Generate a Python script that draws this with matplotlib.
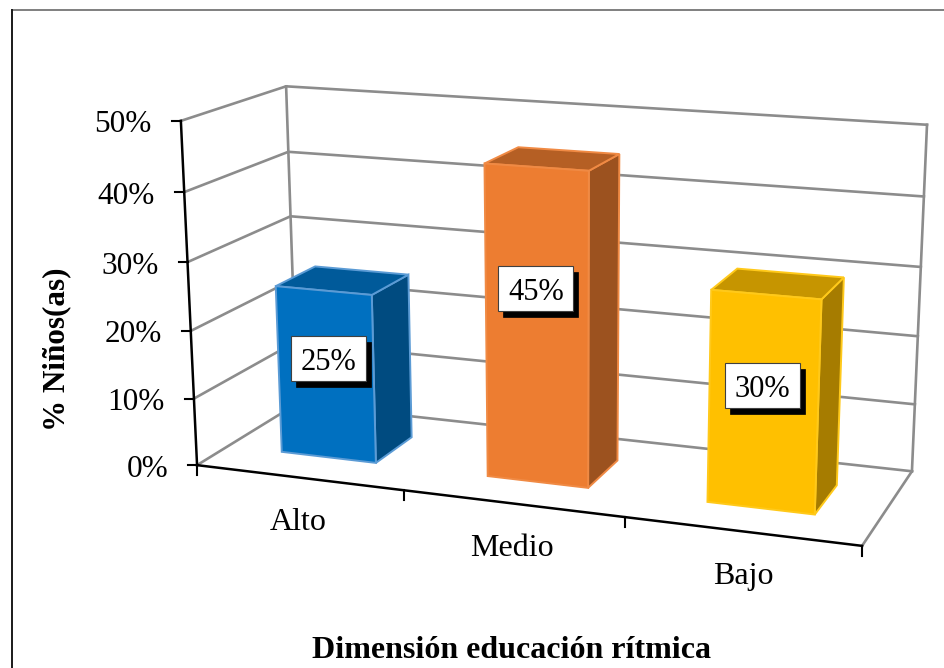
import numpy as np
import matplotlib
matplotlib.use('Agg')
import matplotlib.pyplot as plt
from matplotlib.patches import Polygon, Rectangle

categories = ['Alto', 'Medio', 'Bajo']
values = [25, 45, 30]
y_ticks = [0, 10, 20, 30, 40, 50]
y_max = 50

bar_colors = ['#0070c0', '#ed7d31', '#ffc000']
side_colors = ['#004b80', '#9c521f', '#a67c00']
top_colors = ['#005a9a', '#b55f24', '#c69500']
edge_colors = ['#5b9bd5', '#f08a44', '#ffc91a']

# label nudges in pixels, relative to the middle of each bar / bottom of each slot
label_dx = [3, -1, -1]
label_dy = [-16, -39, -17]
cat_dx = [-1, -1, 2]

plt.rcParams['font.family'] = ['Liberation Serif', 'DejaVu Serif']

# pixel positions of the 3d box corners, used to fit the camera
box_3d = [(0, 0, 0), (0, 0, 1), (0, 1, 0), (0, 1, 1), (1, 1, 0), (1, 1, 1), (1, 0, 0)]
box_px = [(197, 464), (181, 121), (297, 405), (286, 86), (912, 470), (927, 125), (862, 547)]


def fit_camera(pts3, pts2):
    rows = []
    for (x, y, z), (u, v) in zip(pts3, pts2):
        rows.append([x, y, z, 1, 0, 0, 0, 0, -u * x, -u * y, -u * z, -u])
        rows.append([0, 0, 0, 0, x, y, z, 1, -v * x, -v * y, -v * z, -v])
    return np.linalg.svd(np.array(rows, dtype=float))[2][-1].reshape(3, 4)


cam = fit_camera(box_3d, box_px)


def project(x, d, val):
    # x: 0-1 along categories, d: 0 front 1 back, val: percent
    p = cam @ np.array([x, d, val / y_max, 1.0])
    return p[0] / p[2], p[1] / p[2]


fig = plt.figure(figsize=(9.44, 6.68), dpi=100)
ax = fig.add_axes([0, 0, 1, 1])
ax.set_xlim(0, 944)
ax.set_ylim(668, 0)
ax.axis('off')

# chart border
ax.plot([944, 12], [10, 10], color='#7f7f7f', lw=1.4, zorder=1)
ax.plot([12, 12], [10, 668], color='#1a1a1a', lw=1.4, zorder=1)

grid = '#8c8c8c'
# walls
for t in y_ticks:
    pts = [project(0, 0, t), project(0, 1, t), project(1, 1, t)]
    ax.plot(*zip(*pts), color=grid, lw=1.9, zorder=2)
ax.plot(*zip(project(0, 1, 0), project(0, 1, y_max)), color=grid, lw=1.9, zorder=2)
ax.plot(*zip(project(1, 1, 0), project(1, 1, y_max)), color=grid, lw=1.9, zorder=2)
ax.plot(*zip(project(1, 1, 0), project(1, 0, 0)), color=grid, lw=1.9, zorder=2)

# axes lines
ax.plot(*zip(project(0, 0, 0), project(0, 0, y_max)), color='black', lw=1.8, zorder=3)
ax.plot(*zip(project(0, 0, 0), project(1, 0, 0)), color='black', lw=1.8, zorder=3)
for t in y_ticks:
    px, py = project(0, 0, t)
    ax.plot([px - 9, px], [py, py], color='black', lw=1.5, zorder=3)
    ax.text(px - 29, py + 4, f'{t}%', fontsize=22.5, ha='right', va='center', color='black')
n = len(categories)
for i in range(n + 1):
    px, py = project(i / n, 0, 0)
    ax.plot([px, px], [py, py + 10], color='black', lw=1.5, zorder=3)

bar_w = 0.155
d0, d1 = 0.30, 0.70

for i, (val, c, s, tc, e) in enumerate(zip(values, bar_colors, side_colors, top_colors, edge_colors)):
    xc = (i + 0.5) / n
    x0, x1 = xc - bar_w / 2, xc + bar_w / 2
    front = [project(x0, d0, 0), project(x1, d0, 0), project(x1, d0, val), project(x0, d0, val)]
    side = [project(x1, d0, 0), project(x1, d1, 0), project(x1, d1, val), project(x1, d0, val)]
    top = [project(x0, d0, val), project(x1, d0, val), project(x1, d1, val), project(x0, d1, val)]
    ax.add_patch(Polygon(side, fc=s, ec=e, lw=1.4, zorder=4))
    ax.add_patch(Polygon(top, fc=tc, ec=e, lw=1.4, zorder=4))
    ax.add_patch(Polygon(front, fc=c, ec=e, lw=1.4, zorder=5))

    # data label with hard shadow
    lx, ly = project(xc, d0, val / 2)
    lx, ly = lx + label_dx[i], ly + label_dy[i]
    ax.add_patch(Rectangle((lx - 37.5 + 5, ly - 22.5 + 6), 75, 45, fc='black', ec='black', lw=0.5, zorder=6))
    ax.add_patch(Rectangle((lx - 37.5, ly - 22.5), 75, 45, fc='white', ec='#404040', lw=0.8, zorder=7))
    ax.text(lx, ly + 4, f'{val}%', fontsize=22, ha='center', va='center', color='black', zorder=8)

    # category label
    bx, by = project(xc, 0, 0)
    ax.text(bx + cat_dx[i], by + 45, categories[i], fontsize=23, ha='center', va='center', color='black')

ax.text(57, 349, '% Niños(as)', fontsize=22.4, fontweight='bold', rotation=90, ha='center', va='center')
ax.text(512, 650, 'Dimensión educación rítmica', fontsize=23, fontweight='bold', ha='center', va='center')

fig.savefig('out.png', dpi=100)
